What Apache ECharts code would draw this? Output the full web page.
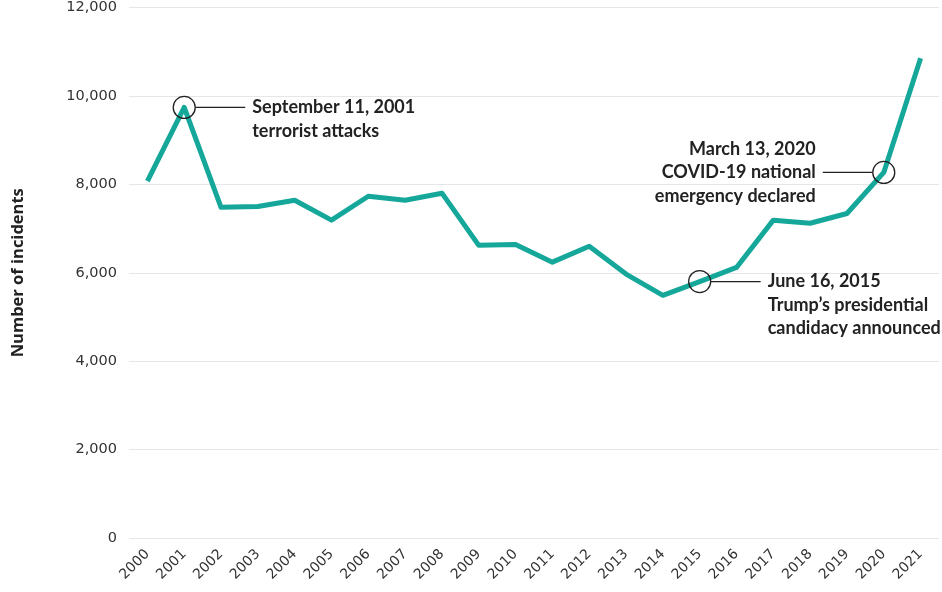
<!DOCTYPE html>
<html><head><meta charset="utf-8">
<script src="https://cdn.jsdelivr.net/npm/echarts@6/dist/echarts.min.js"></script>
<style>html,body{margin:0;padding:0;background:#fff}#c{width:942px;height:592px}</style>
</head><body><div id="c"></div>
<script>
const years = ['2000','2001','2002','2003','2004','2005','2006','2007','2008','2009','2010','2011','2012','2013','2014','2015','2016','2017','2018','2019','2020','2021'];
const incidents = [8070,9740,7480,7500,7640,7190,7730,7640,7800,6620,6640,6240,6600,5970,5490,5800,6120,7190,7120,7340,8270,10850];
const yTicks = [0,2000,4000,6000,8000,10000,12000];
const annotations = [
  {year:'2001', lines:['September 11, 2001','terrorist attacks'], side:'right'},
  {year:'2015', lines:['June 16, 2015','Trump\u2019s presidential','candidacy announced'], side:'right'},
  {year:'2020', lines:['March 13, 2020','COVID-19 national','emergency declared'], side:'left'}
];
const chart = echarts.init(document.getElementById('c'));
chart.setOption({
  animation:false,
  grid:{left:129,right:3,top:7,bottom:54},
  xAxis:{type:'category',data:years,boundaryGap:true,
    axisLine:{show:false},axisTick:{show:false},
    axisLabel:{rotate:45,fontFamily:'DejaVu Sans',fontSize:14,color:'#333',margin:14,interval:0}},
  yAxis:{type:'value',min:yTicks[0],max:yTicks[yTicks.length-1],interval:2000,
    name:'Number of incidents',nameLocation:'middle',nameGap:102,
    nameTextStyle:{fontFamily:'Open Sans',fontWeight:'bold',fontSize:16.5,color:'#222'},
    axisLine:{show:false},axisTick:{show:false},
    axisLabel:{fontFamily:'DejaVu Sans',fontSize:14.5,color:'#333',margin:12,
      formatter:v=>v.toLocaleString('en-US')},
    splitLine:{lineStyle:{color:'#e6e6e6',width:1}}},
  series:[{type:'line',data:incidents,symbol:'none',
    lineStyle:{color:'#14a79a',width:5,join:'round'}}]
});
const g = [];
annotations.forEach(a=>{
  const idx = years.indexOf(a.year);
  const p = chart.convertToPixel({seriesIndex:0},[idx,incidents[idx]]);
  const r = 11;
  g.push({type:'circle',shape:{cx:p[0],cy:p[1],r:r},style:{fill:'none',stroke:'#222',lineWidth:1.3},z:10});
  const dir = a.side==='right'?1:-1;
  const x1 = p[0]+dir*r, x2 = p[0]+dir*(r+50);
  g.push({type:'line',shape:{x1:x1,y1:p[1],x2:x2,y2:p[1]},style:{stroke:'#222',lineWidth:1.3},z:10});
  const tx = x2+dir*7;
  const lh = 23.5;
  const startY = a.side==='right' ? p[1] : p[1]-lh;
  a.lines.forEach((t,i)=>{
    g.push({type:'text',x:tx,y:startY+i*lh,style:{text:t,fontFamily:'Lato',fontWeight:'bold',fontSize:18,fill:'#222',
      align:a.side==='right'?'left':'right',verticalAlign:'middle'},z:10});
  });
});
chart.setOption({graphic:g});
</script></body></html>
